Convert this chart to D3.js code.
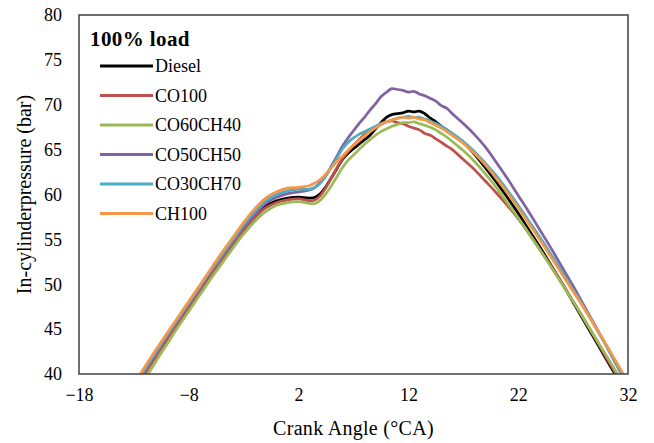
<!DOCTYPE html>
<html>
<head>
<meta charset="utf-8">
<script src="https://cdn.jsdelivr.net/npm/d3@7/dist/d3.min.js"></script>
<style>
    body { margin: 0; background: #fff; }
    svg { display: block; font-family: "Liberation Serif", "Times New Roman", serif; }
    .tick text { fill: #000; }
</style>
</head>
<body>
<svg id="chart" width="654" height="443"></svg>
<script>
'use strict';

// crank angle grid (°CA), finer around the combustion peak
let angles = [-13, -12, -11, -10, -9, -8, -7, -6, -5, -4, -3, -2, -1, 0, 1, 2, 3,
    3.5, 4, 4.5, 5, 5.5, 6, 6.5, 7, 7.5, 8, 8.5, 9, 9.5, 10, 10.5, 11, 11.5, 12, 12.5,
    13, 13.5, 14, 14.5, 15, 15.5, 16,
    17, 18, 19, 20, 21, 22, 23, 24, 25, 26, 27, 28, 29, 30, 31, 32];

let diesel = [38.2, 40.2, 42.1, 44.0, 45.8, 47.6, 49.4, 51.2, 52.9, 54.6, 56.2, 57.6, 58.7, 59.3, 59.6, 59.7, 59.6,
    59.7, 60.1, 60.9, 61.9, 62.9, 63.9, 64.6, 65.1, 65.6, 66.1, 66.6, 67.3, 68.0, 68.6, 68.9, 69.0, 69.1, 69.3, 69.2,
    69.3, 69.0, 68.5, 68.1, 67.6, 67.2, 66.7,
    65.8, 64.5, 63.0, 61.4, 59.7, 57.9, 56.0, 54.1, 52.1, 50.1, 48.0, 45.9, 43.8, 41.7, 39.6, 37.5];

let co100 = [38.0, 40.0, 41.9, 43.8, 45.6, 47.4, 49.2, 51.0, 52.7, 54.4, 56.0, 57.4, 58.5, 59.1, 59.4, 59.5, 59.3,
    59.4, 59.9, 60.8, 61.9, 63.0, 64.0, 64.8, 65.5, 66.1, 66.7, 67.1, 67.5, 67.8, 68.1, 68.2, 68.0, 67.9, 67.6, 67.4,
    67.2, 66.8, 66.6, 66.2, 65.8, 65.4, 65.0,
    63.9, 62.8, 61.5, 60.2, 58.8, 57.3, 55.6, 53.8, 52.0, 50.1, 48.1, 46.1, 44.0, 41.9, 39.8, 37.7];

let co60ch40 = [37.4, 39.4, 41.4, 43.3, 45.2, 47.0, 48.8, 50.6, 52.3, 54.0, 55.6, 57.0, 58.1, 58.8, 59.1, 59.2, 59.0,
    59.0, 59.4, 60.1, 61.0, 62.0, 63.0, 63.8, 64.4, 65.0, 65.6, 66.1, 66.6, 67.0, 67.3, 67.6, 67.8, 68.0, 68.0, 68.1,
    67.9, 67.7, 67.5, 67.2, 66.8, 66.4, 65.9,
    64.9, 63.7, 62.3, 60.8, 59.1, 57.4, 55.6, 53.8, 51.9, 50.0, 48.1, 46.1, 44.1, 42.1, 40.1, 38.1];

let co50ch50 = [38.4, 40.4, 42.3, 44.2, 46.0, 47.8, 49.6, 51.4, 53.1, 54.8, 56.4, 57.8, 59.0, 59.7, 60.1, 60.3, 60.5,
    60.8, 61.4, 62.2, 63.2, 64.3, 65.4, 66.3, 67.1, 67.9, 68.6, 69.4, 70.1, 70.9, 71.4, 71.8, 71.7, 71.6, 71.4, 71.5,
    71.2, 71.0, 70.7, 70.4, 69.9, 69.6, 69.0,
    67.9, 66.7, 65.3, 63.6, 61.8, 59.9, 58.0, 56.0, 54.0, 51.9, 49.8, 47.6, 45.4, 43.2, 40.9, 38.6];

let co30ch70 = [38.5, 40.5, 42.4, 44.3, 46.1, 47.9, 49.7, 51.5, 53.2, 54.9, 56.6, 58.1, 59.3, 60.0, 60.4, 60.6, 60.6,
    60.8, 61.3, 62.1, 63.1, 64.1, 65.1, 65.8, 66.3, 66.7, 67.0, 67.3, 67.6, 67.9, 68.1, 68.3, 68.5, 68.6, 68.7, 68.6,
    68.6, 68.4, 68.2, 67.9, 67.6, 67.2, 66.8,
    65.9, 64.8, 63.5, 62.1, 60.5, 58.8, 57.0, 55.2, 53.3, 51.4, 49.4, 47.4, 45.3, 43.2, 41.0, 38.8];

let ch100 = [38.8, 40.8, 42.7, 44.5, 46.3, 48.1, 49.9, 51.7, 53.5, 55.2, 56.9, 58.4, 59.6, 60.3, 60.7, 60.8, 61.0,
    61.3, 61.7, 62.3, 63.0, 63.7, 64.3, 64.9, 65.5, 66.0, 66.5, 67.0, 67.4, 67.8, 68.1, 68.3, 68.5, 68.6, 68.5, 68.6,
    68.4, 68.3, 68.0, 67.7, 67.4, 67.0, 66.6,
    65.7, 64.6, 63.3, 61.8, 60.2, 58.5, 56.7, 54.9, 53.0, 51.1, 49.2, 47.3, 45.3, 43.3, 41.2, 39.1];

let seriesNames = ['Diesel', 'CO100', 'CO60CH40', 'CO50CH50', 'CO30CH70', 'CH100'];
let seriesValues = [diesel, co100, co60ch40, co50ch50, co30ch70, ch100];
let seriesColors = ['#000000', '#c0504d', '#9bbb59', '#8064a2', '#4bacc6', '#f79646'];

let xTicks = [-18, -8, 2, 12, 22, 32];
let yTicks = [40, 45, 50, 55, 60, 65, 70, 75, 80];

let svg = d3.select("#chart"),
    plot = {left: 79, right: 628, top: 15, bottom: 374};

let x = d3.scaleLinear().domain([-18, 32]).range([plot.left, plot.right]);
let y = d3.scaleLinear().domain([40, 80]).range([plot.bottom, plot.top]);

svg.append("defs").append("clipPath")
    .attr("id", "plotClip")
    .append("rect")
    .attr("x", plot.left)
    .attr("y", plot.top)
    .attr("width", plot.right - plot.left)
    .attr("height", plot.bottom - plot.top);

let series = seriesNames.map((name, i) => ({
    name: name,
    color: seriesColors[i],
    data: angles.map((a, j) => ({angle: a, p: seriesValues[i][j]}))
}));

let line = d3.line()
    .curve(d3.curveCatmullRom)
    .x(d => x(d.angle))
    .y(d => y(d.p));

svg.append("g")
    .attr("clip-path", "url(#plotClip)")
    .selectAll("path")
    .data(series)
    .enter()
    .append("path")
    .attr("fill", "none")
    .attr("stroke", d => d.color)
    .attr("stroke-width", 2.75)
    .attr("stroke-linejoin", "round")
    .attr("d", d => line(d.data));

// plot area border
svg.append("rect")
    .attr("x", plot.left)
    .attr("y", plot.top)
    .attr("width", plot.right - plot.left)
    .attr("height", plot.bottom - plot.top)
    .attr("fill", "none")
    .attr("stroke", "#404040")
    .attr("stroke-width", 1.5);

let yAxis = svg.append("g")
    .attr("transform", "translate(" + plot.left + ",0)")
    .call(d3.axisLeft(y).tickValues(yTicks).tickSize(0).tickPadding(17));
yAxis.select(".domain").remove();
yAxis.selectAll("text").style("font-size", "18px").style("font-family", "Liberation Serif");

let xAxis = svg.append("g")
    .attr("transform", "translate(0," + plot.bottom + ")")
    .call(d3.axisBottom(x).tickValues(xTicks).tickSize(0).tickPadding(14));
xAxis.select(".domain").remove();
xAxis.selectAll("text").style("font-size", "18px").style("font-family", "Liberation Serif");

svg.append("text")      // x-axis title
    .attr("x", (plot.left + plot.right) / 2)
    .attr("y", 435)
    .style("text-anchor", "middle")
    .style("font-size", "20px")
    .style("letter-spacing", "0.3px")
    .text("Crank Angle (°CA)");

svg.append("text")      // y-axis title
    .attr("transform", "translate(31," + ((plot.top + plot.bottom) / 2) + ") rotate(-90)")
    .style("text-anchor", "middle")
    .style("font-size", "20px")
    .text("In-cylinderpressure (bar)");

svg.append("text")
    .attr("x", 90)
    .attr("y", 46)
    .style("font-size", "21px")
    .style("font-weight", "bold")
    .style("letter-spacing", "0.4px")
    .text("100% load");

let legend = svg.append("g")
    .selectAll("g")
    .data(series)
    .enter()
    .append("g")
    .attr("transform", (d, i) => "translate(0," + (66 + i * 29.5) + ")");
legend.append("line")
    .attr("x1", 100)
    .attr("x2", 153)
    .attr("stroke", d => d.color)
    .attr("stroke-width", 3);
legend.append("text")
    .attr("x", 155)
    .attr("dy", "0.35em")
    .style("font-size", "18px")
    .text(d => d.name);
</script>
</body>
</html>
